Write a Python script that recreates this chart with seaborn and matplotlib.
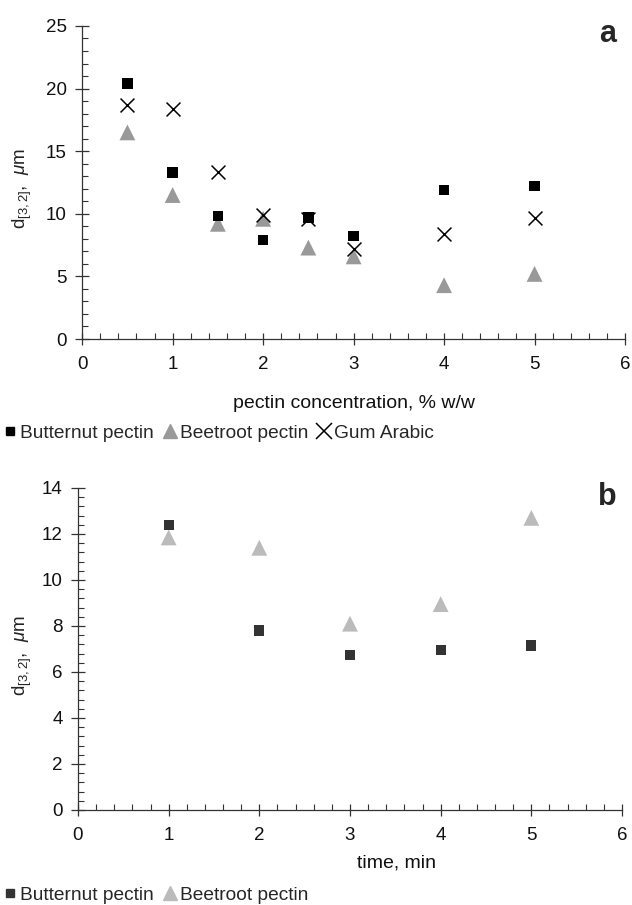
import matplotlib
matplotlib.use("Agg")
import matplotlib.pyplot as plt
import pandas as pd
import seaborn as sns
from matplotlib.ticker import MultipleLocator

# panel a: droplet size vs pectin concentration
conc = [0.5, 1, 1.5, 2, 2.5, 3, 4, 5]
butternut_a = [20.4, 13.3, 9.8, 7.9, 9.7, 8.2, 11.9, 12.2]
beetroot_a = [16.5, 11.5, 9.2, 9.6, 7.3, 6.6, 4.3, 5.2]
gum_arabic_a = [18.7, 18.4, 13.3, 9.9, 9.6, 7.2, 8.4, 9.7]

# panel b: droplet size vs homogenisation time
time_min = [1, 2, 3, 4, 5]
butternut_b = [12.4, 7.8, 6.75, 6.95, 7.15]
beetroot_b = [11.85, 11.4, 8.1, 8.95, 12.7]

sns.set_theme(style="ticks")
plt.rcParams["font.family"] = ["Liberation Sans", "DejaVu Sans"]
plt.rcParams["mathtext.fontset"] = "custom"
plt.rcParams["mathtext.rm"] = "Liberation Sans"
plt.rcParams["mathtext.it"] = "Liberation Sans:italic"

df_a = pd.DataFrame({"conc": conc, "Butternut pectin": butternut_a,
                     "Beetroot pectin": beetroot_a, "Gum Arabic": gum_arabic_a})
df_b = pd.DataFrame({"time": time_min, "Butternut pectin": butternut_b,
                     "Beetroot pectin": beetroot_b})

fig = plt.figure(figsize=(6.32, 9.05), dpi=100)
ax_a = fig.add_axes([0.130, 0.6254, 0.859, 0.3459])
ax_b = fig.add_axes([0.1234, 0.105, 0.8608, 0.3558])

ylab = r"d$_{[3,2]}$,  $\mu$m"
axis_col = "#333333"


def style_axis(ax, ymax, ymaj, ylab_x):
    ax.set_xlim(0, 6)
    ax.set_ylim(0, ymax)
    ax.xaxis.set_major_locator(MultipleLocator(1))
    ax.xaxis.set_minor_locator(MultipleLocator(0.2))
    ax.yaxis.set_major_locator(MultipleLocator(ymaj))
    ax.yaxis.set_minor_locator(MultipleLocator(ymaj / 5))
    sns.despine(ax=ax)
    for s in ["left", "bottom"]:
        ax.spines[s].set_linewidth(0.9)
        ax.spines[s].set_color(axis_col)
    ax.tick_params(axis="x", which="major", direction="inout", length=9,
                   width=0.9, labelsize=13.5, pad=8, color=axis_col,
                   labelcolor="#111111")
    ax.tick_params(axis="x", which="minor", direction="in", length=4,
                   width=0.8, color=axis_col)
    ax.tick_params(axis="y", which="major", direction="inout", length=10,
                   width=0.9, labelsize=13.5, pad=6, color=axis_col,
                   labelcolor="#111111")
    ax.tick_params(axis="y", which="minor", direction="in", length=4.5,
                   width=0.8, color=axis_col)
    ax.set_ylabel(ylab, fontsize=13.5, color="#222222")
    ax.yaxis.set_label_coords(ylab_x, 0.48)


# panel a
sns.scatterplot(data=df_a, x="conc", y="Butternut pectin", ax=ax_a, marker="s",
                color="black", s=55, edgecolor="none", zorder=3)
sns.scatterplot(data=df_a, x="conc", y="Beetroot pectin", ax=ax_a, marker="^",
                color="#999999", s=130, edgecolor="none", zorder=2)
sns.scatterplot(data=df_a, x="conc", y="Gum Arabic", ax=ax_a, marker="x",
                color="black", s=100, linewidth=1.1, zorder=4)
style_axis(ax_a, 25, 5, -0.088)
ax_a.set_xlabel("pectin concentration, % w/w", fontsize=14, color="#111111")
ax_a.xaxis.set_label_coords(0.5, -0.178)
ax_a.text(0.983, 0.949, "a", transform=ax_a.transAxes, ha="right",
          va="baseline", fontsize=22, fontweight="bold")

h_a = [
    plt.Line2D([], [], marker="s", color="black", ls="none", markersize=5.5),
    plt.Line2D([], [], marker="^", color="#999999", ls="none", markersize=10),
    plt.Line2D([], [], marker="x", color="black", ls="none", markersize=11,
               markeredgewidth=1.1),
]
fig.legend(h_a, ["Butternut pectin", "Beetroot pectin", "Gum Arabic"],
           loc="center left", bbox_to_anchor=(-0.02, 0.5215), ncol=3,
           frameon=False, fontsize=13.8, handletextpad=0.0, columnspacing=0.35,
           handlelength=1.0, borderpad=0.2)

# panel b
sns.scatterplot(data=df_b, x="time", y="Butternut pectin", ax=ax_b, marker="s",
                color="#333333", s=55, edgecolor="none", zorder=3)
sns.scatterplot(data=df_b, x="time", y="Beetroot pectin", ax=ax_b, marker="^",
                color="#bbbbbb", s=130, edgecolor="none", zorder=2)
style_axis(ax_b, 14, 2, -0.081)
ax_b.set_xlabel("time, min", fontsize=14, color="#111111")
ax_b.xaxis.set_label_coords(0.585, -0.138)
ax_b.text(0.99, 0.947, "b", transform=ax_b.transAxes, ha="right",
          va="baseline", fontsize=22, fontweight="bold")

h_b = [
    plt.Line2D([], [], marker="s", color="#333333", ls="none", markersize=5.5),
    plt.Line2D([], [], marker="^", color="#bbbbbb", ls="none", markersize=10),
]
fig.legend(h_b, ["Butternut pectin", "Beetroot pectin"],
           loc="center left", bbox_to_anchor=(-0.02, 0.011), ncol=2,
           frameon=False, fontsize=13.8, handletextpad=0.0, columnspacing=0.35,
           handlelength=1.0, borderpad=0.2)

fig.savefig("out.png", dpi=100)
